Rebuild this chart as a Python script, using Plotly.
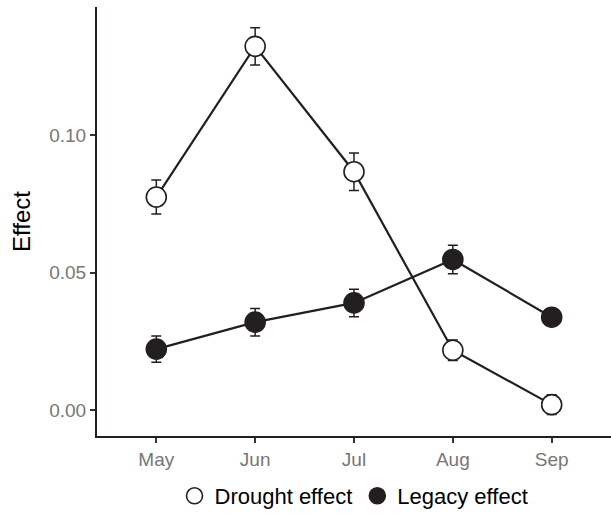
import plotly.graph_objects as go

months = ["May", "Jun", "Jul", "Aug", "Sep"]
drought = [0.0775, 0.1323, 0.0867, 0.0218, 0.0020]
drought_err = [0.0062, 0.0068, 0.0068, 0.0037, 0.0036]
legacy = [0.0222, 0.0320, 0.0390, 0.0548, 0.0338]
legacy_err = [0.0048, 0.0050, 0.0050, 0.0052, 0.0015]
y_ticks = [0.00, 0.05, 0.10]
y_tick_text = ["0.00", "0.05", "0.10"]

ink = "#231f20"
x_idx = list(range(len(months)))

fig = go.Figure()

def add_series(y, err, fill):
    fig.add_trace(go.Scatter(
        x=x_idx, y=y, mode="lines+markers", showlegend=False,
        line=dict(color=ink, width=2.2),
        marker=dict(size=20, color=fill, line=dict(color=ink, width=1.6)),
        error_y=dict(type="data", array=err, color=ink, thickness=1.5, width=5),
    ))

add_series(drought, drought_err, "white")
add_series(legacy, legacy_err, ink)

for fill, name in [("white", "Drought effect"), (ink, "Legacy effect")]:
    fig.add_trace(go.Scatter(
        x=[None], y=[None], mode="markers", name=name,
        marker=dict(size=20, color=fill, line=dict(color=ink, width=1.6)),
    ))

fig.update_layout(
    width=611, height=517,
    margin=dict(l=97, r=0, t=7, b=75),
    plot_bgcolor="white", paper_bgcolor="white",
    font=dict(family="Liberation Sans, Arial, sans-serif", color="#000000"),
    showlegend=True,
    legend=dict(orientation="h", x=0.5, xanchor="center", y=-0.14, yanchor="middle",
                font=dict(size=22, color="#000000"), itemsizing="trace",
                tracegroupgap=0, itemwidth=30),
    xaxis=dict(
        range=[-0.6, 4.6], tickmode="array", tickvals=x_idx, ticktext=months,
        showgrid=False, zeroline=False, showline=True, linecolor=ink, linewidth=2,
        ticks="outside", ticklen=5, tickwidth=1.5, tickcolor="#333333",
        tickfont=dict(size=19, color="#777777"),
    ),
    yaxis=dict(
        range=[-0.0094, 0.1466], tickmode="array", tickvals=y_ticks, ticktext=y_tick_text,
        showgrid=False, zeroline=False, showline=True, linecolor=ink, linewidth=2,
        ticks="outside", ticklen=5, tickwidth=1.5, tickcolor="#333333",
        tickfont=dict(size=19, color="#777777"),
        title=dict(text="Effect", font=dict(size=24, color="#000000"), standoff=12),
    ),
)

fig.write_html("out.html")
